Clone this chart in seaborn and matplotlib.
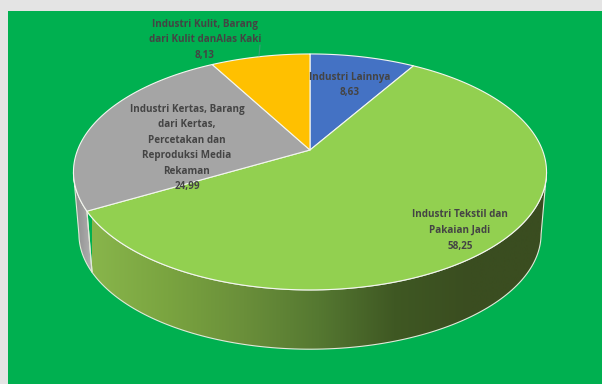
import numpy as np
import matplotlib
matplotlib.use("Agg")
import matplotlib.pyplot as plt
from matplotlib.patches import Polygon, Rectangle
import seaborn as sns

# Share of each industry group, clockwise from twelve o'clock
categories = ["Industri Lainnya", "Industri Tekstil dan\nPakaian Jadi",
              "Industri Kertas, Barang\ndari Kertas,\nPercetakan dan\nReproduksi Media\nRekaman",
              "Industri Kulit, Barang\ndari Kulit danAlas Kaki"]
values = [8.63, 58.25, 24.99, 8.13]
slice_colors = ["#4472C4", "#92D050", "#A5A5A5", "#FFC000"]
label_centers = [(350, 85), (460, 230.5), (187, 148), (205, 40)]

sns.set_theme(style="white")
plt.rcParams["font.family"] = ["Open Sans", "DejaVu Sans"]

fig = plt.figure(figsize=(6.02, 3.84), dpi=100, facecolor="#E4E4E4")
ax = fig.add_axes([0, 0, 1, 1])
ax.set_xlim(0, 602)
ax.set_ylim(384, 0)
ax.axis("off")

ax.add_patch(Rectangle((8, 11), 594, 373, fc="#00B050", ec="none", zorder=0))

# Perspective projection of the unit disc onto the tilted pie
CX, APEX_Y, A, B, K = 310.0, 150.0, 232.4, 113.9, 0.186
BOTTOM_SCALE, BOTTOM_APEX_Y = 0.977, 212.5


def project(theta_deg, scale=1.0, apex_y=APEX_Y):
    t = np.radians(theta_deg)
    u, v = np.sin(t), np.cos(t)
    w = 1 + K * v
    return np.column_stack([CX + scale * A * u / w, apex_y - scale * B * v / w])


edges = np.concatenate([[0], np.cumsum(values)]) / sum(values) * 360


def wall_outline(start, end):
    th = np.linspace(start, end, 120)
    top = project(th)
    bottom = project(th, BOTTOM_SCALE, BOTTOM_APEX_Y)
    return np.vstack([top, bottom[::-1]])


def shaded_wall(start, end, colors, x0, x1):
    ramp = np.array(sns.blend_palette(colors, 256))[None, :, :]
    im = ax.imshow(ramp, extent=(x0, x1, 384, 0), aspect="auto", zorder=2,
                   interpolation="bilinear")
    ax.add_patch(Polygon(wall_outline(start, end), closed=True, fc="none",
                         ec="#E3E9DA", lw=0.8, zorder=3))
    im.set_clip_path(Polygon(wall_outline(start, end), closed=True, transform=ax.transData))


# Visible side walls, lit from the left
shaded_wall(101, edges[2],
            ["#88B54B", "#7AA440", "#6A8F3A", "#557831", "#3F5823", "#3A4D20", "#3A4D20"], 92, 546)
shaded_wall(edges[2], 259, ["#8C8C8C", "#B4B4B4"], 75, 93)
ax.set_xlim(0, 602)
ax.set_ylim(384, 0)

# Top faces of the slices
for i, color in enumerate(slice_colors):
    arc = project(np.linspace(edges[i], edges[i + 1], 160))
    pts = np.vstack([[CX, APEX_Y], arc])
    ax.add_patch(Polygon(pts, closed=True, fc=color, ec="#F4F6F0", lw=0.8,
                         joinstyle="round", zorder=4))

# Leader from the yellow slice to its label
ax.plot([260, 259], [45, 56], color="#3E9C77", lw=0.8, zorder=5)

for name, value, (x, y) in zip(categories, values, label_centers):
    text = f"{name}\n{value:.2f}".replace(".", ",")
    ax.text(x, y, text, ha="center", va="center", fontsize=7.1, fontweight="bold",
            color="#444444", linespacing=1.57, zorder=6)

fig.savefig("out.png", dpi=100, facecolor=fig.get_facecolor())
